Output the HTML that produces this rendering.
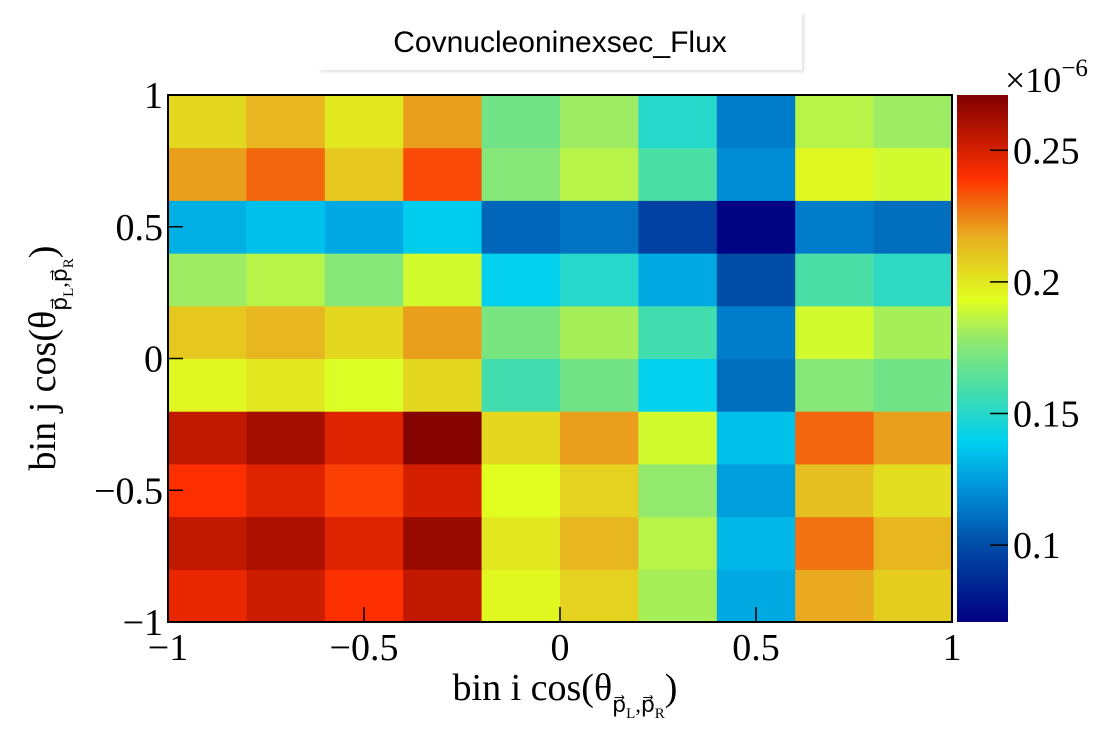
<!DOCTYPE html>
<html><head><meta charset="utf-8"><style>
body{margin:0;background:#fff;}
svg{display:block;}
</style></head><body>
<svg id="chart" width="1120" height="740" xmlns="http://www.w3.org/2000/svg">
<defs>
<linearGradient id="pal" x1="0" y1="1" x2="0" y2="0">
<stop offset="0" stop-color="#000080"/><stop offset="0.152" stop-color="#0050a8"/>
<stop offset="0.25" stop-color="#0090d8"/><stop offset="0.342" stop-color="#00d0f0"/>
<stop offset="0.455" stop-color="#50e0a0"/><stop offset="0.533" stop-color="#90e870"/>
<stop offset="0.61" stop-color="#e0ff20"/><stop offset="0.73" stop-color="#e8b020"/>
<stop offset="0.787" stop-color="#f07010"/><stop offset="0.843" stop-color="#ff3000"/>
<stop offset="1" stop-color="#800000"/>
</linearGradient>
<filter id="sh"><feDropShadow dx="2" dy="2" stdDeviation="1.5" flood-color="#000" flood-opacity="0.12"/></filter>
</defs>
<rect x="318" y="12" width="484" height="58" fill="#fff" filter="url(#sh)"/>
<text x="560" y="52" text-anchor="middle" font-family="Liberation Sans, sans-serif" font-size="30">Covnucleoninexsec_Flux</text>
<g id="cells"></g>
<g id="axes"></g>
<rect x="957" y="95" width="51" height="527" fill="url(#pal)"/>
<g id="zaxis"></g>
<text x="1005" y="92" font-family="Liberation Serif, serif" font-size="36">×10<tspan dy="-16" font-size="25">−6</tspan></text>
<text x="565" y="700" text-anchor="middle" font-family="Liberation Serif, serif" font-size="38">bin i cos(θ<tspan dy="12" font-size="22">p⃗</tspan><tspan dy="6" font-size="15">L</tspan><tspan dy="-6" font-size="22">,p⃗</tspan><tspan dy="6" font-size="15">R</tspan><tspan dy="-18">)</tspan></text>
<text transform="translate(55,358) rotate(-90)" text-anchor="middle" font-family="Liberation Serif, serif" font-size="38">bin j cos(θ<tspan dy="12" font-size="22">p⃗</tspan><tspan dy="6" font-size="15">L</tspan><tspan dy="-6" font-size="22">,p⃗</tspan><tspan dy="6" font-size="15">R</tspan><tspan dy="-18">)</tspan></text>
</svg>
<script>
const xEdges=[-1,-0.8,-0.6,-0.4,-0.2,0,0.2,0.4,0.6,0.8,1];
const yEdges=[-1,-0.8,-0.6,-0.4,-0.2,0,0.2,0.4,0.6,0.8,1];
// rows from bottom (j=0) to top (j=9), values ×1e-6
const row0=[0.245,0.252,0.24,0.255,0.195,0.207,0.182,0.128,0.218,0.208];
const row1=[0.255,0.26,0.248,0.265,0.2,0.215,0.185,0.132,0.228,0.215];
const row2=[0.24,0.248,0.237,0.25,0.193,0.207,0.178,0.125,0.212,0.203];
const row3=[0.255,0.262,0.248,0.27,0.205,0.22,0.19,0.135,0.23,0.22];
const row4=[0.195,0.2,0.192,0.205,0.158,0.17,0.14,0.11,0.175,0.17];
const row5=[0.21,0.215,0.205,0.22,0.172,0.182,0.158,0.115,0.19,0.182];
const row6=[0.18,0.185,0.175,0.19,0.14,0.15,0.128,0.1,0.16,0.152];
const row7=[0.13,0.135,0.128,0.138,0.108,0.112,0.095,0.072,0.115,0.11];
const row8=[0.22,0.23,0.21,0.235,0.175,0.185,0.16,0.12,0.195,0.19];
const row9=[0.205,0.215,0.2,0.22,0.17,0.18,0.15,0.115,0.185,0.18];
const rows=[row0,row1,row2,row3,row4,row5,row6,row7,row8,row9];
const xTicks=[-1,-0.5,0,0.5,1];
const xTickLabels=["−1","−0.5","0","0.5","1"];
const yTicks=[-1,-0.5,0,0.5,1];
const yTickLabels=["−1","−0.5","0","0.5","1"];
const zTicks=[0.1,0.15,0.2,0.25];
const zTickLabels=["0.1","0.15","0.2","0.25"];
const zMin=0.0708,zMax=0.271;
const X0=168,X1=952,Y0=622,Y1=95;
const xs=v=>X0+(v+1)/2*(X1-X0);
const ys=v=>Y0-(v+1)/2*(Y0-Y1);
const zs=v=>Y0-(v-zMin)/(zMax-zMin)*(Y0-Y1);
const stops=[[0,[0,0,128]],[0.152,[0,80,168]],[0.25,[0,144,216]],[0.342,[0,208,240]],[0.455,[80,224,160]],[0.533,[144,232,112]],[0.61,[224,255,32]],[0.73,[232,176,32]],[0.787,[240,112,16]],[0.843,[255,48,0]],[1,[128,0,0]]];
function color(v){let t=Math.max(0,Math.min(1,(v-zMin)/(zMax-zMin)));
for(let i=1;i<stops.length;i++){if(t<=stops[i][0]){const a=stops[i-1],b=stops[i];const f=(t-a[0])/(b[0]-a[0]);
const c=a[1].map((x,k)=>Math.round(x+(b[1][k]-x)*f));return `rgb(${c})`;}}return 'rgb(128,0,0)';}
const NS='http://www.w3.org/2000/svg';
function mk(tag,attrs,parent){const e=document.createElementNS(NS,tag);for(const k in attrs)e.setAttribute(k,attrs[k]);parent.appendChild(e);return e;}
const cells=document.getElementById('cells');
rows.forEach((r,j)=>r.forEach((v,i)=>{
const x=xs(xEdges[i]),x2=xs(xEdges[i+1]),y=ys(yEdges[j+1]),y2=ys(yEdges[j]);
const e=mk('rect',{x:x,y:y,width:x2-x+0.5,height:y2-y+0.5,fill:color(v)},cells);


}));
const ax=document.getElementById('axes');
const fr=mk('rect',{x:X0,y:Y1,width:X1-X0,height:Y0-Y1,fill:'none',stroke:'#000','stroke-width':2},ax);


xTicks.forEach(v=>{mk('line',{x1:xs(v),x2:xs(v),y1:Y0,y2:Y0-15,stroke:'#000','stroke-width':1.5},ax);});
yTicks.forEach(v=>{mk('line',{x1:X0,x2:X0+15,y1:ys(v),y2:ys(v),stroke:'#000','stroke-width':1.5},ax);});
xTicks.forEach((v,i)=>{const t=mk('text',{x:xs(v),y:660,'text-anchor':'middle','font-family':'Liberation Serif, serif','font-size':38},ax);t.textContent=xTickLabels[i];

});
yTicks.forEach((v,i)=>{const t=mk('text',{x:163,y:ys(v)+13,'text-anchor':'end','font-family':'Liberation Serif, serif','font-size':38},ax);t.textContent=yTickLabels[i];

});
const za=document.getElementById('zaxis');
zTicks.forEach((v,i)=>{mk('line',{x1:990,x2:1008,y1:zs(v),y2:zs(v),stroke:'#000','stroke-width':1.5},za);
const t=mk('text',{x:1013,y:zs(v)+13,'font-family':'Liberation Serif, serif','font-size':38},za);t.textContent=zTickLabels[i];

});
</script>
</body></html>
